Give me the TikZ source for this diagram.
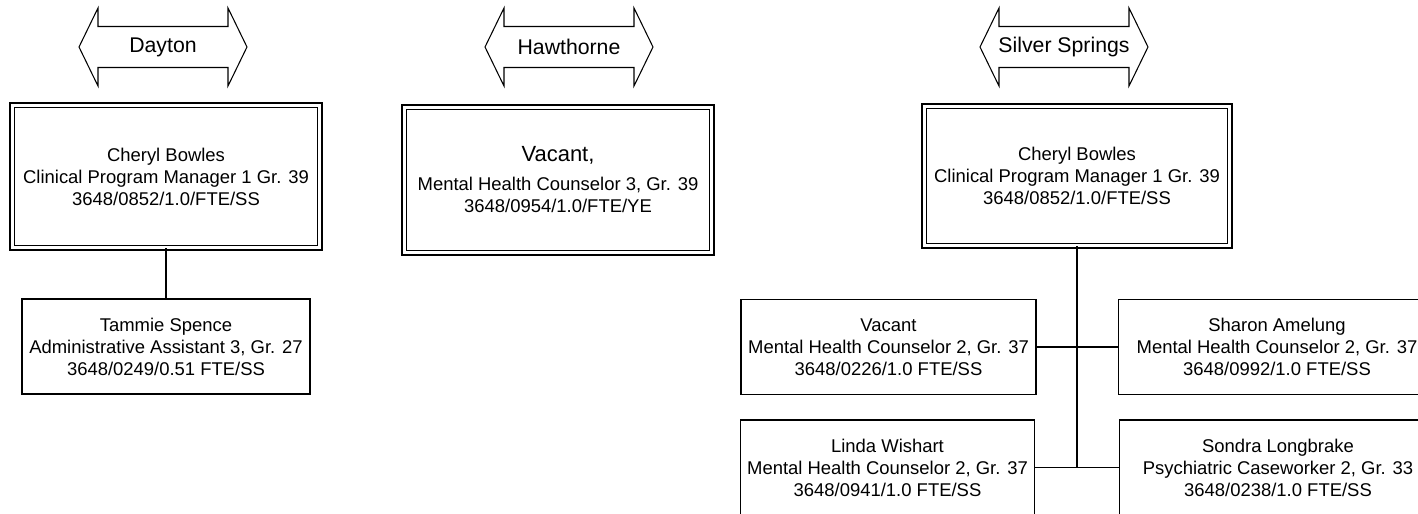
\documentclass[tikz,border=0pt]{standalone}
\usepackage{fontspec}
\setmainfont{Liberation Sans}
\usepackage{tikz}

\tikzset{
  post/.style={draw, line width=0.8pt, align=center, inner sep=0pt,
    font=\fontsize{10.5}{12.5}\selectfont},
  staff/.style={post, minimum width=5.9cm, minimum height=1.9cm},
  headpost/.style={post, double, double distance=2pt, minimum width=6.15cm},
  sitelabel/.style={font=\fontsize{12.1}{14}\selectfont},
  link/.style={line width=0.8pt}
}

\begin{document}
\begin{tikzpicture}[x=0.02cm, y=-0.02cm]
    \useasboundingbox (0,0) rectangle (1418,514);
    \clip (0,0) rectangle (1418,514);
    % Sedi
    \foreach \cx/\name/\txt in {163/dayton/Dayton, 569/hawthorne/Hawthorne, 1064/silver/Silver Springs}{
        \draw[line width=0.6pt] (\cx-84,47) -- (\cx-65,8) -- (\cx-65,26.5) -- (\cx+65,26.5) -- (\cx+65,8) -- (\cx+84,47)
            -- (\cx+65,86) -- (\cx+65,67.5) -- (\cx-65,67.5) -- (\cx-65,86) -- cycle;
        \node[sitelabel] (\name) at (\cx,47) {\txt};
    }
    % Dayton
    \node[headpost, minimum height=2.85cm] (cherylD) at (166,176.5) {Cheryl Bowles\\Clinical Program Manager 1 Gr. 39\\3648/0852/1.0/FTE/SS};
    \node[staff, minimum width=5.76cm] (tammie) at (166,346.5) {Tammie Spence\\Administrative Assistant 3, Gr. 27\\3648/0249/0.51 FTE/SS};
    \draw[link] (cherylD) -- (tammie);
    % Hawthorne
    \node[headpost, minimum height=2.91cm] (vacantH) at (558,180) {{\fontsize{12.5}{15}\selectfont Vacant,}\\[4pt]Mental Health Counselor 3, Gr. 39\\3648/0954/1.0/FTE/YE};
    % Silver Springs
    \node[headpost, minimum width=6.11cm, minimum height=2.79cm] (cherylS) at (1077,176) {Cheryl Bowles\\Clinical Program Manager 1 Gr. 39\\3648/0852/1.0/FTE/SS};
    \node[staff] (vacantS) at (888.5,347) {Vacant\\Mental Health Counselor 2, Gr. 37\\3648/0226/1.0 FTE/SS};
    \node[staff, minimum width=6.34cm] (sharon) at (1277,347) {Sharon Amelung\\Mental Health Counselor 2, Gr. 37\\3648/0992/1.0 FTE/SS};
    \node[staff, minimum width=5.87cm] (linda) at (887.5,467.5) {Linda Wishart\\Mental Health Counselor 2, Gr. 37\\3648/0941/1.0 FTE/SS};
    \node[staff, minimum width=6.34cm] (sondra) at (1278,467.5) {Sondra Longbrake\\Psychiatric Caseworker 2, Gr. 33\\3648/0238/1.0 FTE/SS};
    % Tronco
    \coordinate (trunk) at (cherylS.south |- linda.east);
    \draw[link] (cherylS) -- (trunk);
    \draw[link] (vacantS) -- (sharon);
    \draw[link] (linda) -- (sondra);
\end{tikzpicture}
\end{document}
